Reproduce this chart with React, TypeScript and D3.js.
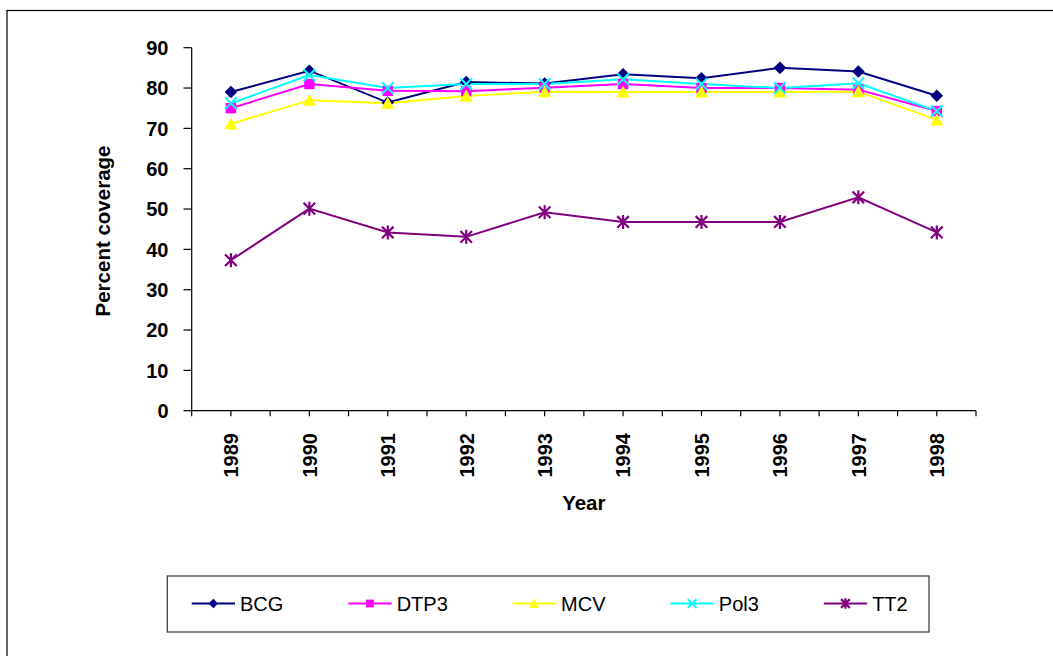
import React from 'react';
import * as d3 from 'd3';

const W = 1053;
const H = 656;

const years = ['1989', '1990', '1991', '1992', '1993', '1994', '1995', '1996', '1997', '1998'];
const yTicks = [0, 10, 20, 30, 40, 50, 60, 70, 80, 90];

const bcg = [79, 84.3, 76.4, 81.5, 81.1, 83.4, 82.4, 85, 84.1, 78.1];
const dtp3 = [75, 81, 79.3, 79.2, 80.1, 81, 80, 80, 79.6, 74.3];
const mcv = [71.1, 77, 76.2, 78, 79.1, 79, 79, 79, 79.1, 72.1];
const pol3 = [76.2, 83.2, 80, 81, 81, 82.2, 81, 80, 81.2, 74.3];
const tt2 = [37.3, 50.1, 44.2, 43.1, 49.2, 46.8, 46.8, 46.8, 52.9, 44.2];

const seriesNames = ['BCG', 'DTP3', 'MCV', 'Pol3', 'TT2'];
const seriesValues = [bcg, dtp3, mcv, pol3, tt2];
const seriesColors = ['#000080', '#FF00FF', '#FFFF00', '#00FFFF', '#800080'];
const seriesMarkers = ['diamond', 'square', 'triangle', 'cross', 'star'];

const FONT = '"Liberation Sans", Arial, sans-serif';

// marker drawn centred on (0,0), k = scale factor
function Marker({ kind, color, k = 1 }: { kind: string; color: string; k?: number }) {
  const s = (v: number) => v * k;
  if (kind === 'diamond')
    return <path d={`M0,${s(-6.3)}L${s(6.3)},0L0,${s(6.3)}L${s(-6.3)},0Z`} fill={color} />;
  if (kind === 'square')
    return <rect x={s(-5.2)} y={s(-5.2)} width={s(10.4)} height={s(10.4)} fill={color} />;
  if (kind === 'triangle')
    return <path d={`M0,${s(-6.5)}L${s(6.5)},${s(5.5)}L${s(-6.5)},${s(5.5)}Z`} fill={color} />;
  if (kind === 'cross')
    return (
      <path
        d={`M${s(-5.8)},${s(-5.8)}L${s(5.8)},${s(5.8)}M${s(-5.8)},${s(5.8)}L${s(5.8)},${s(-5.8)}`}
        stroke={color}
        strokeWidth={2}
        fill="none"
      />
    );
  // asterisk: cross + vertical bar
  return (
    <path
      d={`M${s(-5.8)},${s(-5.8)}L${s(5.8)},${s(5.8)}M${s(-5.8)},${s(5.8)}L${s(5.8)},${s(-5.8)}M0,${s(-7)}L0,${s(7)}`}
      stroke={color}
      strokeWidth={2.2}
      fill="none"
    />
  );
}

function textWidth(txt: string, font: string) {
  const c = document.createElement('canvas').getContext('2d');
  if (!c) return txt.length * 11;
  c.font = font;
  return c.measureText(txt).width;
}

export default function App() {
  const x = d3.scaleBand<string>().domain(years).range([191.7, 976]);
  const bw = x.bandwidth();
  const cx = (yr: string) => (x(yr) ?? 0) + bw / 2;
  const y = d3.scaleLinear().domain([0, 90]).range([410.7, 47.7]);

  const line = d3
    .line<number>()
    .x((_, i) => cx(years[i]))
    .y((v) => y(v));

  // x ticks at category boundaries and centres
  const xTickPos: number[] = [];
  years.forEach((yr) => {
    xTickPos.push(x(yr) ?? 0);
    xTickPos.push(cx(yr));
  });
  xTickPos.push(976);

  // legend layout
  const legFont = `20px ${FONT}`;
  const legItems: { x: number; name: string; color: string; marker: string }[] = [];
  let lx = 191.7;
  seriesNames.forEach((n, i) => {
    legItems.push({ x: lx, name: n, color: seriesColors[i], marker: seriesMarkers[i] });
    lx += 43.3 + 5 + textWidth(n, legFont) + 65;
  });

  return (
    <svg
      width={W}
      height={H}
      style={{ position: 'absolute', left: 0, top: 0, background: '#fff' }}
      fontFamily={FONT}
    >
      <rect x={7} y={10.5} width={W + 10} height={H + 10} fill="#fff" stroke="#000" strokeWidth={1.2} />

      {/* y axis */}
      <line x1={191.7} x2={191.7} y1={y(90)} y2={y(0)} stroke="#000" strokeWidth={1.2} />
      {yTicks.map((t) => (
        <g key={t}>
          <line x1={183.5} x2={191.7} y1={y(t)} y2={y(t)} stroke="#000" strokeWidth={1.2} />
          <text x={168.5} y={y(t)} dy="0.36em" textAnchor="end" fontSize={20} fontWeight="bold">
            {t}
          </text>
        </g>
      ))}
      <text
        transform={`translate(109.5,231) rotate(-90)`}
        textAnchor="middle"
        fontSize={20.5}
        fontWeight="bold"
      >
        Percent coverage
      </text>

      {/* x axis */}
      <line x1={191.7} x2={976} y1={y(0)} y2={y(0)} stroke="#000" strokeWidth={1.2} />
      {xTickPos.map((p, i) => (
        <line key={i} x1={p} x2={p} y1={y(0)} y2={y(0) + 5.5} stroke="#000" strokeWidth={1.2} />
      ))}
      {years.map((yr) => (
        <text
          key={yr}
          transform={`translate(${cx(yr) + 7.3},433) rotate(-90)`}
          textAnchor="end"
          fontSize={20}
          fontWeight="bold"
        >
          {yr}
        </text>
      ))}
      <text x={(191.7 + 976) / 2} y={510} textAnchor="middle" fontSize={20.5} fontWeight="bold">
        Year
      </text>

      {/* series lines */}
      {seriesValues.map((vals, si) => (
        <path key={si} d={line(vals) ?? ''} fill="none" stroke={seriesColors[si]} strokeWidth={2} />
      ))}
      {/* markers */}
      {seriesValues.map((vals, si) =>
        vals.map((v, i) => (
          <g key={`${si}-${i}`} transform={`translate(${cx(years[i])},${y(v)})`}>
            <Marker kind={seriesMarkers[si]} color={seriesColors[si]} />
          </g>
        ))
      )}

      {/* legend */}
      <rect x={167.3} y={576} width={761.7} height={56} fill="#fff" stroke="#333" strokeWidth={1.2} />
      {legItems.map((it) => (
        <g key={it.name} transform={`translate(${it.x},603.5)`}>
          <line x1={0} x2={43.3} y1={0} y2={0} stroke={it.color} strokeWidth={2} />
          <g transform="translate(21.6,0)">
            <Marker kind={it.marker} color={it.color} k={0.75} />
          </g>
          <text x={48.3} y={0} dy="0.36em" fontSize={20}>
            {it.name}
          </text>
        </g>
      ))}
    </svg>
  );
}
